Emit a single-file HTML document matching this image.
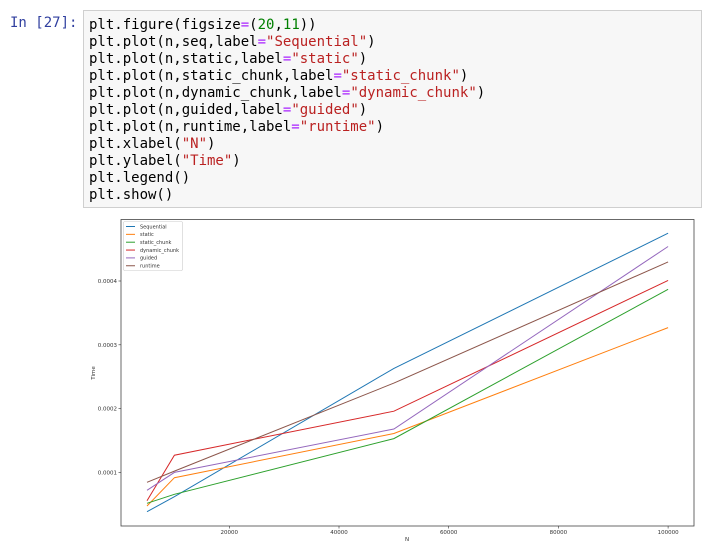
<!DOCTYPE html>
<html><head><meta charset="utf-8">
<style>
body{margin:0;width:710px;height:546px;background:#fff;position:relative;overflow:hidden;font-family:"DejaVu Sans Mono","Liberation Mono",monospace}
#prompt{position:absolute;left:10px;top:15px;font-size:14px;color:#303f9f;line-height:17px}
#code{position:absolute;left:83px;top:10px;width:619px;height:198px;background:#f7f7f7;border:1px solid #cfcfcf;box-sizing:border-box}
#code pre{margin:0;position:absolute;left:5px;top:6px;font-family:"DejaVu Sans Mono",monospace;font-size:14px;line-height:17px;color:#000}
.s{color:#ba2121}.o{color:#aa22ff}.n{color:#008000}
svg{position:absolute;left:0;top:0}
</style></head><body>
<div id="prompt">In [27]:</div>
<div id="code"><pre>plt.figure(figsize<span class="o">=</span>(<span class="n">20</span>,<span class="n">11</span>))
plt.plot(n,seq,label<span class="o">=</span><span class="s">"Sequential"</span>)
plt.plot(n,static,label<span class="o">=</span><span class="s">"static"</span>)
plt.plot(n,static_chunk,label<span class="o">=</span><span class="s">"static_chunk"</span>)
plt.plot(n,dynamic_chunk,label<span class="o">=</span><span class="s">"dynamic_chunk"</span>)
plt.plot(n,guided,label<span class="o">=</span><span class="s">"guided"</span>)
plt.plot(n,runtime,label<span class="o">=</span><span class="s">"runtime"</span>)
plt.xlabel(<span class="s">"N"</span>)
plt.ylabel(<span class="s">"Time"</span>)
plt.legend()
plt.show()</pre></div>
<svg id="chart" width="710" height="546"></svg>
<script>
const nVals=[5000,10000,50000,100000];
const seqVals=[0.0000384,0.0000619,0.000263,0.000475];
const staticVals=[0.0000473,0.0000917,0.000161,0.000327];
const staticChunkVals=[0.0000515,0.0000657,0.000153,0.000387];
const dynamicChunkVals=[0.0000557,0.000127,0.000196,0.000401];
const guidedVals=[0.000072,0.0001,0.000168,0.000454];
const runtimeVals=[0.0000845,0.000102,0.00024,0.00043];
const seriesNames=["Sequential","static","static_chunk","dynamic_chunk","guided","runtime"];
const xTicks=[20000,40000,60000,80000,100000];
const yTicks=[0.0001,0.0002,0.0003,0.0004];
const yTickLabels=["0.0001","0.0002","0.0003","0.0004"];
const allSeries=[seqVals,staticVals,staticChunkVals,dynamicChunkVals,guidedVals,runtimeVals];
const colors=["#1f77b4","#ff7f0e","#2ca02c","#d62728","#9467bd","#8c564b"];
const NS="http://www.w3.org/2000/svg";
const svg=document.getElementById('chart');
const L=121,R=694,T=219.5,B=526;
function xs(v){return 119.6+v*0.005485;}
function ys(v){return 536.2-v*638000;}
function mk(t,a,p){const e=document.createElementNS(NS,t);for(const k in a)e.setAttribute(k,a[k]);(p||svg).appendChild(e);return e;}
const frame=mk('rect',{x:L,y:T,width:R-L,height:B-T,fill:'#fff',stroke:'#444','stroke-width':0.8});


xTicks.forEach(t=>{
  const x=xs(t);
  const l=mk('line',{x1:x,x2:x,y1:B,y2:B+2.5,stroke:'#333','stroke-width':0.6});
  
  
  const tx=mk('text',{x:x,y:B+8,'font-size':5.5,'text-anchor':'middle','font-family':'DejaVu Sans, sans-serif',fill:'#333'});
  tx.textContent=String(t);
  
  
});
yTicks.forEach((t,i)=>{
  const y=ys(t);
  const l=mk('line',{x1:L-2.5,x2:L,y1:y,y2:y,stroke:'#333','stroke-width':0.6});
  
  
  const tx=mk('text',{x:L-4,y:y+2,'font-size':5.5,'text-anchor':'end','font-family':'DejaVu Sans, sans-serif',fill:'#333'});
  tx.textContent=yTickLabels[i];
  
  
});
const xl=mk('text',{x:407,y:541,'font-size':5.5,'text-anchor':'middle','font-family':'DejaVu Sans, sans-serif',fill:'#333'});
xl.textContent='N';


const yl=mk('text',{x:0,y:0,'font-size':5.5,'text-anchor':'middle','font-family':'DejaVu Sans, sans-serif',fill:'#333',transform:'translate(95,373) rotate(-90)'});
yl.textContent='Time';


allSeries.forEach((s,i)=>{
  const pts=s.map((v,j)=>xs(nVals[j]).toFixed(1)+','+ys(v).toFixed(1)).join(' ');
  const p=mk('polyline',{points:pts,fill:'none',stroke:colors[i],'stroke-width':1});
  
  
});
const lg=mk('g',{});


const lr=mk('rect',{x:123.5,y:221.5,width:59,height:49,fill:'#fff',stroke:'#ccc','stroke-width':0.6,rx:1.5},lg);
seriesNames.forEach((nm,i)=>{
  const y=226.5+i*7.85;
  const l=mk('line',{x1:126,x2:135,y1:y,y2:y,stroke:colors[i],'stroke-width':1},lg);
  
  
  const t=mk('text',{x:140,y:y+1.8,'font-size':5,'font-family':'DejaVu Sans, sans-serif',fill:'#333'},lg);
  t.textContent=nm;
  
  
});
</script>
</body></html>
